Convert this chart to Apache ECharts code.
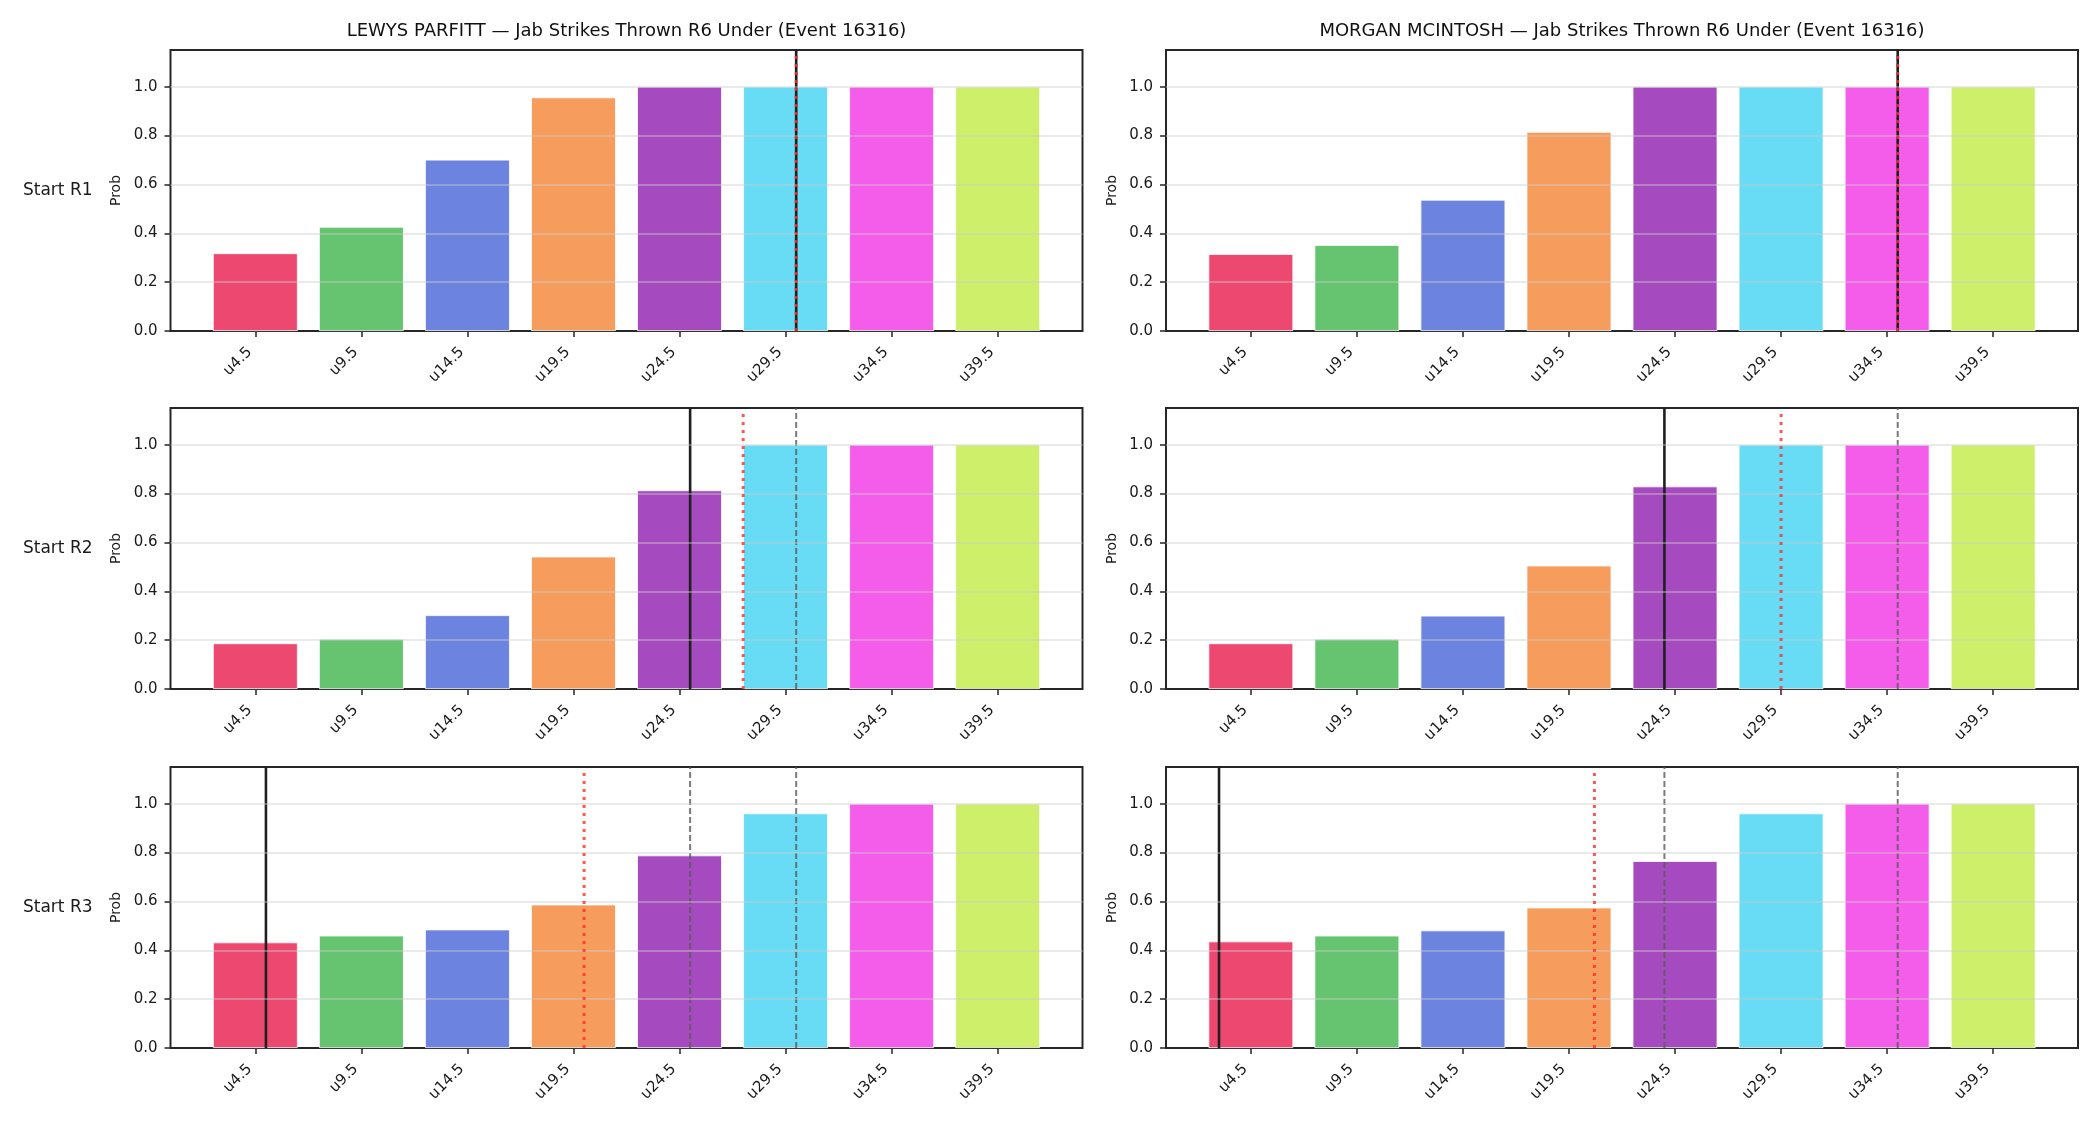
<!DOCTYPE html>
<html>
<head>
<meta charset="utf-8">
<script src="https://cdn.jsdelivr.net/npm/echarts@6/dist/echarts.min.js"></script>
<style>
  html, body { margin: 0; padding: 0; background: #fff; }
  #chart { width: 2100px; height: 1125px; }
</style>
</head>
<body>
<div id="chart"></div>
<script>
// categories (under thresholds) and bar colours
const categories = ['u4.5', 'u9.5', 'u14.5', 'u19.5', 'u24.5', 'u29.5', 'u34.5', 'u39.5'];
const barColors = ['#ec4870', '#66c36f', '#6c84df', '#f69c5c', '#a64bbf', '#68dbf5', '#f35de9', '#cdef6a'];
const yTicks = [0, 0.2, 0.4, 0.6, 0.8, 1.0];
const rowNames = ['Start R1', 'Start R2', 'Start R3'];
const fighters = ['LEWYS PARFITT', 'MORGAN MCINTOSH'];
const market = 'Jab Strikes Thrown R6 Under (Event 16316)';

// probabilities, one row per start round
const parfittR1 = [0.318, 0.426, 0.701, 0.956, 1.0, 1.0, 1.0, 1.0];
const parfittR2 = [0.187, 0.205, 0.302, 0.542, 0.813, 1.0, 1.0, 1.0];
const parfittR3 = [0.432, 0.460, 0.485, 0.587, 0.788, 0.960, 1.0, 1.0];
const mcintoshR1 = [0.315, 0.352, 0.537, 0.815, 1.0, 1.0, 1.0, 1.0];
const mcintoshR2 = [0.187, 0.205, 0.300, 0.505, 0.829, 1.0, 1.0, 1.0];
const mcintoshR3 = [0.436, 0.460, 0.481, 0.575, 0.765, 0.960, 1.0, 1.0];

// reference markers (strike counts): projection (black), line (red dotted), medians (grey dashed)
const parfittProj = [30, 25, 5];
const parfittLine = [30, 27.5, 20];
const parfittMedian = [[30], [30], [25, 30]];
const mcintoshProj = [35, 24, 3];
const mcintoshLine = [35, 29.5, 20.7];
const mcintoshMedian = [[35], [35], [24, 35]];

const probs = [[parfittR1, mcintoshR1], [parfittR2, mcintoshR2], [parfittR3, mcintoshR3]];
const proj = [parfittProj, mcintoshProj];
const lines = [parfittLine, mcintoshLine];
const medians = [parfittMedian, mcintoshMedian];

// count -> position on the category scale (u4.5 at 0, step 5)
const toPos = v => (v - 4.5) / 5;

const FONT = '"DejaVu Sans", sans-serif';
const colLeft = [170.5, 1166];
const colWidth = 912;
const rowTop = [50, 408, 767];
const rowHeight = [281, 281, 281];
const xMin = -0.8, xMax = 7.8, yMax = 1.15;
const barW = colWidth * 0.8 / (xMax - xMin);

const grids = [], xAxes = [], yAxes = [], series = [], graphics = [];

for (let r = 0; r < 3; r++) {
  for (let c = 0; c < 2; c++) {
    const k = grids.length;
    grids.push({
      left: colLeft[c], top: rowTop[r], width: colWidth, height: rowHeight[r],
      show: true, borderColor: '#262626', borderWidth: 2, backgroundColor: 'transparent'
    });
    xAxes.push({
      gridIndex: k, type: 'value', min: xMin, max: xMax, position: 'bottom',
      axisLine: { show: false, onZero: false },
      splitLine: { show: false },
      axisTick: { show: true, length: 6, lineStyle: { color: '#262626', width: 1.5 }, customValues: categories.map((_, i) => i) },
      axisLabel: {
        customValues: categories.map((_, i) => i),
        formatter: v => categories[Math.round(v)],
        rotate: 45, margin: 13, padding: [0, 8, 0, 0], fontSize: 15, fontFamily: FONT, color: '#1a1a1a'
      }
    });
    yAxes.push({
      gridIndex: k, type: 'value', min: 0, max: yMax, position: 'left',
      name: 'Prob', nameLocation: 'middle', nameGap: 47,
      nameTextStyle: { fontSize: 14, fontFamily: FONT, color: '#1a1a1a' },
      axisLine: { show: false, onZero: false },
      splitLine: { show: false },
      axisTick: { show: true, length: 6, lineStyle: { color: '#262626', width: 1.5 }, customValues: yTicks },
      axisLabel: {
        customValues: yTicks, formatter: v => v.toFixed(1),
        margin: 13, fontSize: 15, fontFamily: FONT, color: '#1a1a1a'
      }
    });

    const vals = probs[r][c];
    series.push({
      type: 'bar', xAxisIndex: k, yAxisIndex: k, barWidth: barW, z: 2,
      data: vals.map((v, i) => ({ value: [i, v], itemStyle: { color: barColors[i], borderColor: '#ffffff', borderWidth: 0.8 } })),
      markLine: {
        silent: true, symbol: 'none', label: { show: false }, animation: false,
        lineStyle: { color: 'rgba(205,205,205,0.55)', width: 1.5, type: 'solid' },
        data: yTicks.slice(1).map(t => ({ yAxis: t }))
      }
    });
    medians[c][r].forEach(m => {
      series.push({
        type: 'line', xAxisIndex: k, yAxisIndex: k, symbol: 'none', z: 3, silent: true,
        lineStyle: { color: 'rgba(90,90,90,0.8)', width: 2, type: [6, 3] },
        data: [[toPos(m), 0], [toPos(m), yMax]]
      });
    });
    series.push({
      type: 'line', xAxisIndex: k, yAxisIndex: k, symbol: 'none', z: 4, silent: true,
      lineStyle: { color: '#1f1f1f', width: 2.6 },
      data: [[toPos(proj[c][r]), 0], [toPos(proj[c][r]), yMax]]
    });
    series.push({
      type: 'line', xAxisIndex: k, yAxisIndex: k, symbol: 'none', z: 5, silent: true,
      lineStyle: { color: 'rgba(255,45,45,0.8)', width: 3, type: [3, 5] },
      data: [[toPos(lines[c][r]), 0], [toPos(lines[c][r]), yMax * 0.98]]
    });
  }
  graphics.push({
    type: 'text', left: 23, top: rowTop[r] + rowHeight[r] / 2 - 8,
    style: { text: rowNames[r], font: '17px ' + FONT, fill: '#1a1a1a' }
  });
}

// titles, centred over their panels using their measured widths
const measure = document.createElement('canvas').getContext('2d');
for (let c = 0; c < 2; c++) {
  const text = fighters[c] + ' \u2014 ' + market;
  const font = '18px ' + FONT;
  measure.font = font;
  graphics.push({
    type: 'text', left: colLeft[c] + colWidth / 2 - measure.measureText(text).width / 2, top: 22,
    style: { text: text, font: font, fill: '#111' }
  });
}

const chart = echarts.init(document.getElementById('chart'), null, { renderer: 'canvas' });
chart.setOption({
  animation: false,
  backgroundColor: '#ffffff',
  grid: grids,
  xAxis: xAxes,
  yAxis: yAxes,
  series: series,
  graphic: graphics
});
</script>
</body>
</html>
